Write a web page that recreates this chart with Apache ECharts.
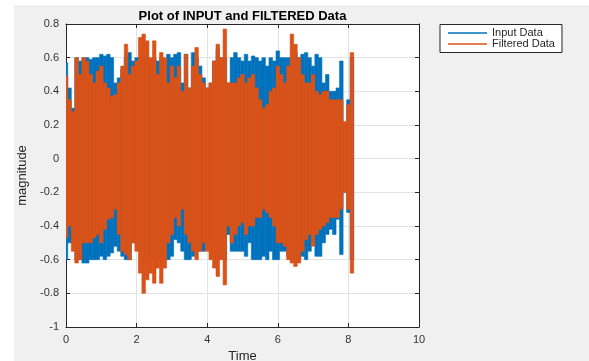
<!DOCTYPE html>
<html>
<head>
<meta charset="utf-8">
<script src="https://cdn.jsdelivr.net/npm/echarts@6/dist/echarts.min.js"></script>
<style>
  html, body { margin: 0; padding: 0; background: #fff; }
  #chart { position: absolute; left: 14px; top: 5px; width: 575px; height: 356px; }
</style>
</head>
<body>
<div id="chart"></div>
<script>
// sample times (s), envelope read every 0.1 s
var time = [0, 0.1, 0.2, 0.3, 0.4, 0.5, 0.6, 0.7, 0.8, 0.9,
  1, 1.1, 1.2, 1.3, 1.4, 1.5, 1.6, 1.7, 1.8, 1.9,
  2, 2.1, 2.2, 2.3, 2.4, 2.5, 2.6, 2.7, 2.8, 2.9,
  3, 3.1, 3.2, 3.3, 3.4, 3.5, 3.6, 3.7, 3.8, 3.9,
  4, 4.1, 4.2, 4.3, 4.4, 4.5, 4.6, 4.7, 4.8, 4.9,
  5, 5.1, 5.2, 5.3, 5.4, 5.5, 5.6, 5.7, 5.8, 5.9,
  6, 6.1, 6.2, 6.3, 6.4, 6.5, 6.6, 6.7, 6.8, 6.9,
  7, 7.1, 7.2, 7.3, 7.4, 7.5, 7.6, 7.7, 7.8, 7.9,
  8, 8.1];

// upper / lower envelope of the input signal
var inputTop = [0.57, 0.42, 0.3, 0.6, 0.58, 0.6, 0.6, 0.59, 0.6, 0.6,
  0.62, 0.61, 0.62, 0.6, 0.45, 0.48, 0.53, 0.6, 0.63, 0.58,
  0.6, 0.6, 0.62, 0.6, 0.58, 0.6, 0.58, 0.6, 0.58, 0.62,
  0.6, 0.62, 0.63, 0.45, 0.62, 0.42, 0.63, 0.6, 0.55, 0.48,
  0.42, 0.45, 0.58, 0.65, 0.6, 0.6, 0.45, 0.6, 0.63, 0.6,
  0.58, 0.62, 0.58, 0.61, 0.6, 0.58, 0.6, 0.55, 0.6, 0.58,
  0.64, 0.6, 0.6, 0.6, 0.6, 0.63, 0.6, 0.62, 0.63, 0.6,
  0.55, 0.62, 0.6, 0.45, 0.5, 0.4, 0.4, 0.42, 0.58, 0.2,
  0.35, 0.6];
var inputBot = [-0.6, -0.5, -0.5, -0.6, -0.6, -0.62, -0.62, -0.6, -0.6, -0.6,
  -0.58, -0.6, -0.58, -0.56, -0.52, -0.55, -0.58, -0.6, -0.6, -0.5,
  -0.5, -0.55, -0.6, -0.6, -0.6, -0.6, -0.6, -0.6, -0.6, -0.6,
  -0.58, -0.48, -0.5, -0.55, -0.6, -0.6, -0.58, -0.55, -0.55, -0.55,
  -0.5, -0.52, -0.58, -0.6, -0.58, -0.6, -0.45, -0.55, -0.55, -0.55,
  -0.55, -0.58, -0.5, -0.6, -0.6, -0.6, -0.58, -0.6, -0.55, -0.6,
  -0.6, -0.55, -0.55, -0.58, -0.6, -0.6, -0.6, -0.58, -0.6, -0.55,
  -0.5, -0.58, -0.58, -0.5, -0.45, -0.42, -0.45, -0.36, -0.57, -0.2,
  -0.32, -0.6];

// upper / lower envelope of the filtered signal
var filtTop = [0.49, 0.35, 0.28, 0.6, 0.5, 0.6, 0.58, 0.5, 0.45, 0.52,
  0.55, 0.45, 0.42, 0.37, 0.38, 0.45, 0.55, 0.68, 0.5, 0.55,
  0.58, 0.72, 0.74, 0.7, 0.6, 0.7, 0.5, 0.63, 0.6, 0.45,
  0.55, 0.48, 0.55, 0.4, 0.62, 0.42, 0.55, 0.66, 0.5, 0.45,
  0.42, 0.45, 0.58, 0.68, 0.6, 0.77, 0.45, 0.45, 0.45, 0.48,
  0.5, 0.45, 0.48, 0.5, 0.42, 0.35, 0.3, 0.32, 0.4, 0.42,
  0.55, 0.5, 0.45, 0.55, 0.74, 0.68, 0.6, 0.5, 0.45, 0.45,
  0.5, 0.4, 0.38, 0.4, 0.4, 0.35, 0.35, 0.35, 0.35, 0.22,
  0.32, 0.63];
var filtBot = [-0.47, -0.4, -0.55, -0.62, -0.6, -0.5, -0.5, -0.5, -0.47, -0.45,
  -0.5, -0.42, -0.36, -0.35, -0.3, -0.45, -0.55, -0.57, -0.6, -0.5,
  -0.55, -0.68, -0.8, -0.72, -0.68, -0.74, -0.65, -0.74, -0.65, -0.5,
  -0.45, -0.35, -0.4, -0.3, -0.45, -0.5, -0.55, -0.6, -0.55, -0.5,
  -0.55, -0.6, -0.65, -0.7, -0.6, -0.75, -0.4, -0.5, -0.45, -0.4,
  -0.38, -0.45, -0.4, -0.4, -0.35, -0.35, -0.3, -0.32, -0.35, -0.4,
  -0.5, -0.5, -0.52, -0.6, -0.62, -0.64, -0.62, -0.55, -0.48, -0.45,
  -0.52, -0.45, -0.42, -0.4, -0.38, -0.35, -0.35, -0.35, -0.3, -0.2,
  -0.3, -0.68];

var step = 0.1;

function band(lo, hi) {
  return time.map(function (t, i) { return [t, lo[i], hi[i]]; });
}

// each sample is drawn as a vertical block from its min to its max
function renderBand(params, api) {
  var t = api.value(0);
  var a = api.coord([t - step / 2, api.value(2)]);
  var b = api.coord([t + step / 2, api.value(1)]);
  var c = api.visual('color');
  return {
    type: 'rect',
    shape: { x: a[0], y: a[1], width: b[0] - a[0], height: b[1] - a[1] },
    style: { fill: c, stroke: c, lineWidth: 0.6 }
  };
}

var axisColor = '#262626';
var font = 'Liberation Sans, Arial, Helvetica, sans-serif';

var chart = echarts.init(document.getElementById('chart'));
chart.setOption({
  backgroundColor: '#f0f0f0',
  animation: false,
  textStyle: { fontFamily: font },
  title: {
    text: 'Plot of INPUT and FILTERED Data',
    left: 228.5,
    textAlign: 'center',
    top: 5,
    padding: 0,
    textStyle: { fontSize: 13, fontWeight: 'bold', color: '#000', fontFamily: font }
  },
  legend: {
    orient: 'vertical',
    left: 426,
    top: 19.5,
    padding: [3, 7, 3, 8],
    itemGap: 0,
    itemWidth: 39,
    itemHeight: 1.5,
    icon: 'rect',
    backgroundColor: '#fff',
    borderColor: axisColor,
    borderWidth: 1,
    borderRadius: 0,
    textStyle: { fontSize: 11, color: '#262626', lineHeight: 11, fontFamily: font },
    data: ['Input Data', 'Filtered Data']
  },
  grid: {
    left: 52, top: 19, width: 353, height: 303,
    containLabel: false, outerBoundsMode: 'none',
    show: true, backgroundColor: '#fff', borderWidth: 0
  },
  xAxis: [{
    type: 'value', min: 0, max: 10, interval: 2, position: 'bottom',
    name: 'Time', nameLocation: 'middle', nameGap: 20,
    nameTextStyle: { fontSize: 13, color: axisColor, fontFamily: font },
    axisLine: { show: true, onZero: false, lineStyle: { color: axisColor, width: 1 } },
    axisTick: { show: true, inside: true, length: 4, lineStyle: { color: axisColor } },
    axisLabel: { fontSize: 11, color: '#333', margin: 7, fontFamily: font },
    splitLine: { show: true, lineStyle: { color: '#e3e3e3' } }
  }, {
    type: 'value', min: 0, max: 10, interval: 2, position: 'top',
    axisLine: { show: true, onZero: false, lineStyle: { color: axisColor, width: 1 } },
    axisTick: { show: true, inside: true, length: 4, lineStyle: { color: axisColor } },
    axisLabel: { show: false },
    splitLine: { show: false }
  }],
  yAxis: [{
    type: 'value', min: -1, max: 0.8, interval: 0.2, position: 'left',
    name: 'magnitude', nameLocation: 'middle', nameGap: 32, nameRotate: 90,
    nameTextStyle: { fontSize: 13, color: axisColor, fontFamily: font },
    axisLine: { show: true, onZero: false, lineStyle: { color: axisColor, width: 1 } },
    axisTick: { show: true, inside: true, length: 4, lineStyle: { color: axisColor } },
    axisLabel: {
      fontSize: 11, color: '#333', margin: 7, fontFamily: font,
      formatter: function (v) { return String(+v.toFixed(1)); }
    },
    splitLine: { show: true, lineStyle: { color: '#e3e3e3' } }
  }, {
    type: 'value', min: -1, max: 0.8, interval: 0.2, position: 'right',
    axisLine: { show: true, onZero: false, lineStyle: { color: axisColor, width: 1 } },
    axisTick: { show: true, inside: true, length: 4, lineStyle: { color: axisColor } },
    axisLabel: { show: false },
    splitLine: { show: false }
  }],
  series: [{
    name: 'Input Data',
    type: 'custom',
    color: '#0072BD',
    renderItem: renderBand,
    encode: { x: 0, y: [1, 2] },
    clip: true,
    data: band(inputBot, inputTop)
  }, {
    name: 'Filtered Data',
    type: 'custom',
    color: '#D95319',
    renderItem: renderBand,
    encode: { x: 0, y: [1, 2] },
    clip: true,
    data: band(filtBot, filtTop)
  }]
});
</script>
</body>
</html>
